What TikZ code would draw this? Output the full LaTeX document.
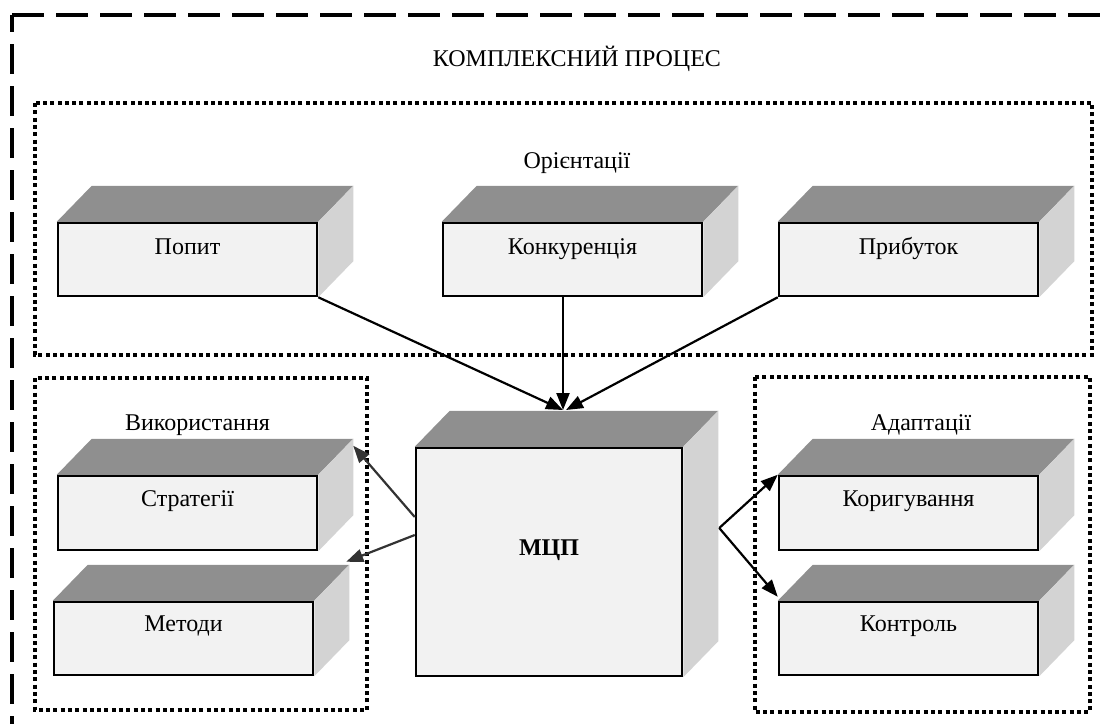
\documentclass[tikz,border=0pt]{standalone}
\usepackage{fontspec}
\setmainfont{Liberation Serif}
\usetikzlibrary{arrows.meta,backgrounds}

\definecolor{facefront}{RGB}{242,242,242}
\definecolor{facetop}{RGB}{143,143,143}
\definecolor{faceside}{RGB}{211,211,211}
\definecolor{linkgray}{RGB}{51,51,51}

% A box drawn as a prism: front face as a node, top and side faces behind it.
% #1 name, #2 centre, #3 width, #4 height, #5 baseline depth of the label, #6 label
\newcommand{\prismbox}[6]{%
  \node[frontface, minimum width=#3, minimum height=#4] (#1) at #2 {};
  \begin{scope}[on background layer]
    \fill[facetop] (#1.north west) -- ++(35,-36) -- ([shift={(35,-36)}]#1.north east) -- (#1.north east) -- cycle;
    \fill[faceside] (#1.north east) -- ++(35,-36) -- ([shift={(35,-36)}]#1.south east) -- (#1.south east) -- cycle;
  \end{scope}
  \coordinate (#1-back) at ([shift={(35,-36)}]#1.north east);
  \node[boxtext, anchor=base] (#1-t) at ([yshift=-#5]#1.north) {#6};
}

\begin{document}
\begin{tikzpicture}[x=1pt, y=-1pt,
  frontface/.style={draw, line width=2.5pt, fill=facefront, inner sep=0pt},
  boxtext/.style={font=\fontsize{24}{28}\selectfont, inner sep=0pt},
  grouptitle/.style={font=\fontsize{24}{28}\selectfont, inner sep=0pt, anchor=base},
  groupbox/.style={line width=3.3pt, dash pattern=on 4pt off 3.3pt},
  outerline/.style={line width=3.3pt},
  link/.style={line width=2.2pt, -{Triangle[length=17pt, width=13pt]}},
  graylink/.style={link, draw=linkgray, -{Triangle[length=17pt, width=13pt, fill=linkgray]}}
]
\useasboundingbox (0,0) rectangle (1101,724);

% outer process frame (only its top and left sides are visible)
\coordinate (corner) at (12,15);
\draw[outerline, dash pattern=on 32pt off 12pt] (corner) -- (1101,15);
\draw[outerline, dash pattern=on 30pt off 12pt, dash phase=13pt] (corner) -- (12,724);
\node[grouptitle] (title) at (577,66) {КОМПЛЕКСНИЙ ПРОЦЕС};

% groups
\draw[groupbox] (35,103) rectangle (1092,355);
\draw[groupbox] (35,378) rectangle (367,710);
\draw[groupbox] (755,377) rectangle (1090,712);
\node[grouptitle] (orient) at (577,168) {Орієнтації};
\node[grouptitle] (usage) at (197.5,430) {Використання};
\node[grouptitle] (adapt) at (921,430) {Адаптації};

% boxes
\prismbox{popyt}{(187.5,259.5)}{259pt}{73pt}{33pt}{Попит}
\prismbox{konk}{(572.5,259.5)}{259pt}{73pt}{33pt}{Конкуренція}
\prismbox{prib}{(908.5,259.5)}{259pt}{73pt}{33pt}{Прибуток}
\prismbox{strat}{(187.5,513)}{259pt}{74pt}{32pt}{Стратегії}
\prismbox{meth}{(183.5,638.5)}{259pt}{73pt}{31pt}{Методи}
\prismbox{korr}{(908.5,513)}{259pt}{74pt}{32pt}{Коригування}
\prismbox{kontr}{(908.5,638.5)}{259pt}{73pt}{31pt}{Контроль}
\prismbox{mcp}{(549,562)}{266pt}{228pt}{109pt}{\textbf{МЦП}}

% connectors
\coordinate (mcpin) at (563,410);
\draw[link] (popyt.south east) -- (mcpin);
\draw[link] (konk.south -| mcpin) -- (mcpin);
\draw[link] (prib.south west) -- ([xshift=3pt]mcpin);

\draw[graylink] ([yshift=45pt]mcp.west) -- ([yshift=-7pt]strat-back);
\draw[graylink] ([yshift=27pt]mcp.west) -- ([shift={(-3pt,3pt)}]meth-back);

\coordinate (split) at ([shift={(36pt,34pt)}]mcp.east);
\draw[link] (split) -- (korr.north west);
\draw[link] (split) -- ([yshift=4pt]kontr.north west);
\end{tikzpicture}
\end{document}
